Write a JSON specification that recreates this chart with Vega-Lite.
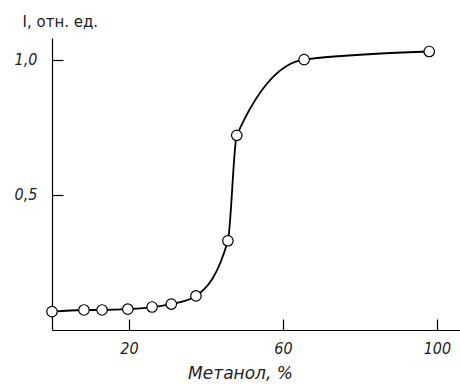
{
  "$schema": "https://vega.github.io/schema/vega-lite/v6.json",
  "width": 408,
  "height": 292,
  "autosize": {"type": "none"},
  "padding": {"left": 52, "top": 38, "right": 0, "bottom": 55},
  "background": "white",
  "config": {"view": {"stroke": null}},
  "data": {"values": [
    {"m": 0, "i": 0.068},
    {"m": 8.3, "i": 0.074},
    {"m": 13, "i": 0.074},
    {"m": 19.7, "i": 0.077},
    {"m": 26, "i": 0.085},
    {"m": 31, "i": 0.096},
    {"m": 37.4, "i": 0.126},
    {"m": 45.7, "i": 0.33},
    {"m": 48, "i": 0.72},
    {"m": 65.5, "i": 1.0},
    {"m": 98, "i": 1.03}
  ]},
  "encoding": {
    "x": {"field": "m", "type": "quantitative", "scale": {"domain": [0, 106], "nice": false, "zero": false},
      "axis": {"values": [20, 60, 100], "grid": false, "domainColor": "black", "domainWidth": 1.2, "tickColor": "black", "tickWidth": 1.2, "tickSize": -11, "labelPadding": 21,
        "labelFont": "DejaVu Sans Condensed", "labelFontStyle": "italic", "labelFontSize": 16, "labelColor": "#222",
        "title": "Метанол, %", "titleFont": "DejaVu Sans", "titleFontStyle": "italic", "titleFontWeight": "normal", "titleFontSize": 17, "titleColor": "#222",
        "titleX": 188, "titleY": 43, "titleAnchor": "middle", "titleAlign": "center", "titleBaseline": "middle"}},
    "y": {"field": "i", "type": "quantitative", "scale": {"domain": [0, 1.08], "nice": false},
      "axis": {"values": [0.5, 1.0], "grid": false, "domainColor": "black", "domainWidth": 1.2, "tickColor": "black", "tickWidth": 1.2, "tickSize": -11, "labelPadding": 26,
        "labelExpr": "replace(format(datum.value, '.1f'), '.', ',')",
        "labelFont": "DejaVu Sans Condensed", "labelFontStyle": "italic", "labelFontSize": 16, "labelColor": "#222",
        "title": "I, отн. ед.", "titleFont": "DejaVu Sans", "titleFontWeight": "normal", "titleFontSize": 15, "titleColor": "#222",
        "titleAngle": 0, "titleX": -30, "titleY": -12, "titleAlign": "left", "titleBaseline": "alphabetic"}}
  },
  "layer": [
    {"mark": {"type": "line", "interpolate": "monotone", "color": "black", "strokeWidth": 1.8}},
    {"mark": {"type": "point", "shape": "circle", "filled": true, "fill": "white", "stroke": "black", "strokeWidth": 1.2, "size": 110, "opacity": 1}}
  ]
}
